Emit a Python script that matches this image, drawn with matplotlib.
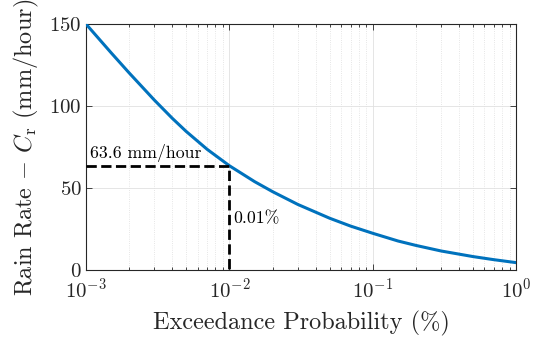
import matplotlib
matplotlib.use('Agg')
import matplotlib.pyplot as plt
from matplotlib.ticker import LogLocator, NullFormatter

# values
prob = [1e-3, 1.5e-3, 2e-3, 3e-3, 4e-3, 5e-3, 7e-3, 1e-2, 1.5e-2, 2e-2, 3e-2,
        5e-2, 7e-2, 1e-1, 1.5e-1, 2e-1, 3e-1, 5e-1, 7e-1, 1.0]
rain = [150, 132.4, 120.2, 103.6, 92.5, 84.5, 73.6, 63.6, 53.9, 47.8, 40.0,
        31.6, 26.8, 22.4, 17.7, 15.0, 11.6, 8.2, 6.3, 4.5]

p_mark = 0.01
r_mark = 63.6

plt.rcParams['font.family'] = 'serif'
plt.rcParams['font.serif'] = ['cmr10']
plt.rcParams['mathtext.fontset'] = 'cm'
plt.rcParams['axes.formatter.use_mathtext'] = True

dark = (0.15, 0.15, 0.15)

fig = plt.figure(figsize=(5.41, 3.39), dpi=100)
ax = fig.add_axes([0.159, 0.2035, 0.795, 0.7255])

ax.plot(prob, rain, color='#0072BD', lw=2.2, zorder=3)
ax.plot([1e-3, p_mark, p_mark], [r_mark, r_mark, 0], 'k--', lw=2, zorder=4)

ax.text(1.07e-3, r_mark + 2.5, '63.6 mm/hour', fontsize=12.75, ha='left', va='bottom')
ax.text(1.07e-2, 31.5, '0.01%', fontsize=12.75, ha='left', va='center')

ax.set_xscale('log')
ax.set_xlim(1e-3, 1)
ax.set_ylim(0, 150)
ax.set_yticks([0, 50, 100, 150])
ax.xaxis.set_minor_locator(LogLocator(base=10, subs=range(2, 10)))
ax.xaxis.set_minor_formatter(NullFormatter())

ax.grid(True, which='major', color=(0.88, 0.88, 0.88), lw=0.6)
ax.grid(True, which='minor', axis='x', color=(0.87, 0.87, 0.87), lw=0.6, ls=':')
ax.set_axisbelow(True)

ax.tick_params(which='both', direction='in', top=True, right=True, colors=dark,
               labelsize=15, pad=3)
ax.tick_params(axis='x', which='major', pad=5)
ax.tick_params(which='major', length=4, width=0.6)
ax.tick_params(which='minor', length=2.5, width=0.6)
for s in ax.spines.values():
    s.set_color(dark)
    s.set_linewidth(0.8)

ax.set_xlabel('Exceedance Probability (%)', fontsize=17.5, color=dark, labelpad=7)
ax.set_ylabel(r'Rain Rate $-$ $C_{\rm r}$ (mm/hour)', fontsize=17.5, color=dark,
              labelpad=6)

fig.savefig('out.png', dpi=100)
